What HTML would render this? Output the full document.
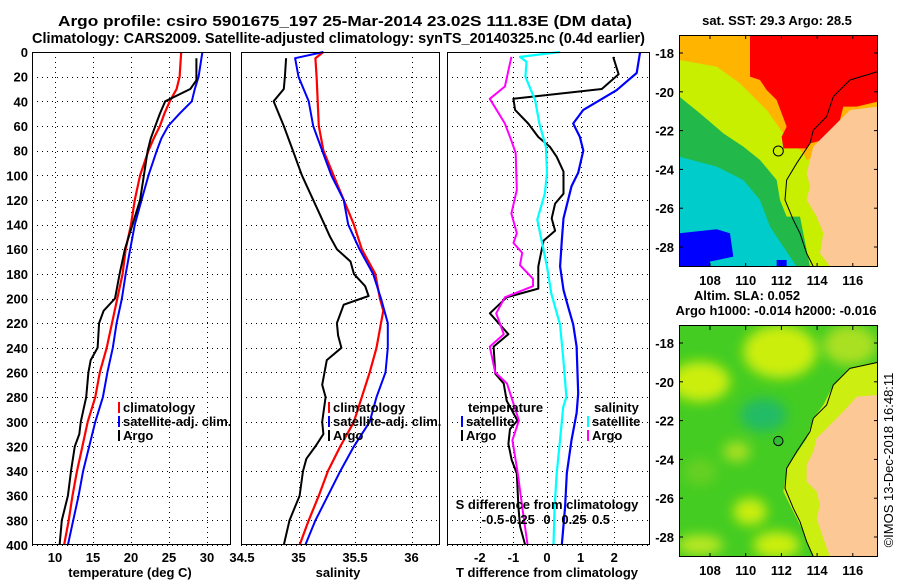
<!DOCTYPE html>
<html><head><meta charset="utf-8"><style>
html,body{margin:0;padding:0;background:#fff;}
svg{display:block;font-family:"Liberation Sans",Arial,sans-serif;font-weight:bold;}
</style></head><body>
<svg id="fig" width="900" height="580" viewBox="0 0 900 580">
<defs>
<filter id="bl" x="-20%" y="-20%" width="140%" height="140%"><feGaussianBlur stdDeviation="18"/></filter>
<clipPath id="m1c"><rect x="88" y="105" width="595" height="695"/></clipPath>
<clipPath id="m2c"><rect x="88" y="122" width="595" height="693"/></clipPath>
</defs>
<text x="58" y="26" font-size="15" textLength="574" lengthAdjust="spacingAndGlyphs">Argo profile: csiro 5901675_197 25-Mar-2014 23.02S 111.83E (DM data)</text>
<text x="32" y="43" font-size="15" textLength="613" lengthAdjust="spacingAndGlyphs">Climatology: CARS2009. Satellite-adjusted climatology: synTS_20140325.nc (0.4d earlier)</text>
<g id="charts"></g>

<!-- SST map -->
<g>
<text x="777" y="25" font-size="13" text-anchor="middle">sat. SST: 29.3 Argo: 28.5</text>
<g transform="translate(650,0) scale(0.3333)" clip-path="url(#m1c)">
<rect x="88" y="105" width="595" height="695" fill="#00cccc"/>
<polygon fill="#22b84a" points="88,105 683,105 683,800 440,800 400,740 360,680 330,600 280,540 200,500 88,470"/>
<polygon fill="#c8ee00" points="88,105 683,105 683,800 480,800 450,650 410,650 390,600 380,540 330,480 280,440 220,400 150,340 88,290"/>
<polygon fill="#ffb400" points="88,105 683,105 683,400 470,480 460,460 400,400 350,330 320,300 270,250 200,200 88,180"/>
<polygon fill="#ff0000" points="300,105 683,105 683,305 620,320 580,320 570,360 520,420 480,430 470,445 400,445 395,410 410,380 380,300 350,270 330,240 300,230"/>
<polygon fill="#0000ff" points="88,700 200,688 240,700 250,770 180,785 180,800 88,800"/>
<rect x="380" y="780" width="30" height="20" fill="#0000ff"/>
<polygon fill="#fcc896" points="683,320 600,330 570,360 520,410 490,440 470,520 480,560 470,600 500,650 520,700 510,760 540,800 683,800"/>
<polyline fill="none" stroke="#000" stroke-width="3" points="683,215 600,240 550,290 530,350 490,390 480,430 440,490 410,540 405,600 430,660 450,700 470,760 490,800"/>
<circle cx="385" cy="453" r="15" fill="none" stroke="#000" stroke-width="3"/>
</g>
<rect x="679.5" y="35.5" width="198" height="231" fill="none" stroke="#000"/>
<g id="m1ticks"></g>
</g>

<!-- SLA map -->
<g>
<text x="747" y="300" font-size="13" text-anchor="middle">Altim. SLA: 0.052</text>
<text x="776" y="315" font-size="13" text-anchor="middle">Argo h1000: -0.014 h2000: -0.016</text>
<g transform="translate(650,285) scale(0.3333)" clip-path="url(#m2c)">
<rect x="88" y="122" width="595" height="693" fill="#44cc22"/>
<g filter="url(#bl)">
<ellipse cx="150" cy="290" rx="90" ry="60" fill="#ccee11"/>
<ellipse cx="390" cy="200" rx="110" ry="80" fill="#ccee11"/>
<ellipse cx="600" cy="180" rx="80" ry="60" fill="#aae022"/>
<ellipse cx="340" cy="390" rx="70" ry="50" fill="#22bb66"/>
<ellipse cx="260" cy="500" rx="40" ry="30" fill="#aae022"/>
<ellipse cx="300" cy="680" rx="50" ry="40" fill="#ccee11"/>
<ellipse cx="380" cy="780" rx="70" ry="40" fill="#ccee11"/>
<ellipse cx="150" cy="780" rx="70" ry="30" fill="#bbe822"/>
<ellipse cx="150" cy="560" rx="50" ry="40" fill="#66d022"/>
</g>
<polygon fill="#ccee11" points="683,232 600,250 550,300 520,360 490,400 470,460 410,550 400,620 430,680 460,740 490,815 683,815"/>
<polygon fill="#fcc896" points="683,330 620,335 580,380 530,430 500,460 490,500 470,540 470,590 500,620 510,660 500,700 520,760 540,815 683,815"/>
<polyline fill="none" stroke="#000" stroke-width="3" points="683,232 600,250 550,300 530,360 490,400 480,440 440,500 410,550 405,610 430,670 450,710 470,770 490,815"/>
<circle cx="385" cy="468" r="14" fill="#33bb33" stroke="#000" stroke-width="3"/>
</g>
<rect x="679.5" y="325.5" width="198" height="231" fill="none" stroke="#000"/>
<g id="m2ticks"></g>
</g>
<text transform="translate(893,460) rotate(-90)" font-size="13" font-weight="normal" text-anchor="middle">©IMOS 13-Dec-2018 16:48:11</text>
</svg>
<script>
// ---- chart data ----
const depthTicks = [0,20,40,60,80,100,120,140,160,180,200,220,240,260,280,300,320,340,360,380,400];
const tempTicks = [10,15,20,25,30];
const salTicks = [34.5,35,35.5,36];
const salTickLabels = ["34.5","35","35.5","36"];
const tdTicks = [-2,-1,0,1,2];
const sdTicks = [-0.5,-0.25,0,0.25,0.5];
const sdTickLabels = ["-0.5","-0.25","0","0.25","0.5"];

const climDepth = [0,20,30,40,50,60,70,80,100,120,140,160,180,200,220,240,260,280,300,320,340,360,380,400];
const tempClim = [26.6,26.4,26.0,25.1,24.4,23.8,23.0,22.3,21.2,20.5,20.0,19.3,18.9,18.2,17.5,16.8,15.9,15.3,14.3,13.6,12.9,12.3,11.8,11.2];
const tempSat = [29.4,28.9,28.4,28.0,26.4,24.9,24.0,23.4,22.3,21.4,20.5,19.9,19.3,18.8,18.1,17.6,16.9,16.3,15.3,14.5,13.7,13.1,12.4,11.7];
const argoTDepth = [5,20,23,30,40,50,60,70,80,100,120,140,160,180,200,210,220,240,250,260,280,300,310,320,340,360,380,400];
const tempArgo = [28.6,28.6,28.6,27.8,24.5,23.8,23.2,22.6,22.2,21.7,21.2,20.2,19.2,18.5,17.9,16.4,15.8,15.6,14.7,14.4,14.1,13.4,13.2,12.6,12.1,11.7,10.9,10.6];

const salDepth = [0,5,20,40,60,80,100,120,140,160,180,200,210,220,240,260,280,300,320,340,360,380,400];
const salClim = [35.22,35.15,35.16,35.17,35.18,35.22,35.31,35.40,35.49,35.56,35.68,35.72,35.75,35.73,35.69,35.63,35.56,35.49,35.37,35.26,35.18,35.09,35.01];
const salSat = [35.22,34.97,35.0,35.09,35.13,35.21,35.29,35.40,35.44,35.54,35.66,35.73,35.76,35.79,35.79,35.77,35.69,35.63,35.49,35.37,35.26,35.15,35.06];
const argoSDepth = [5,20,30,40,60,80,100,120,140,150,160,170,180,190,198,205,220,230,240,250,270,280,300,310,320,330,340,360,380,400];
const salArgo = [34.89,34.88,34.87,34.78,34.87,34.95,35.03,35.13,35.23,35.28,35.34,35.46,35.49,35.59,35.62,35.40,35.34,35.35,35.38,35.25,35.21,35.24,35.21,35.22,35.15,35.07,35.04,35.01,34.92,34.87];

const tdArgoDepth = [4,18,30,38,47,58,69,77,85,97,115,123,135,145,153,166,174,192,199,212,229,239,261,269,283,299,306,318,331,342,369,385,400];
const tdArgo = [1.97,2.13,1.63,-1.0,-0.95,-0.56,-0.26,0.09,0.29,0.49,0.49,0.24,0.14,0.24,-0.10,-0.2,-0.26,-0.26,-1.2,-1.7,-1.15,-1.59,-1.54,-1.29,-1.2,-0.88,-1.1,-1.15,-1.05,-0.9,-0.85,-0.8,-0.65];
const tdSatDepth = [0,17,31,47,58,69,80,98,109,135,153,174,193,207,221,239,277,293,315,342,369,400];
const tdSat = [2.77,2.67,2.07,1.08,0.78,0.98,1.08,0.93,0.73,0.49,0.44,0.39,0.49,0.63,0.78,0.88,0.93,0.88,0.73,0.59,0.54,0.44];
const sdArgoDepth = [4,28,38,58,72,82,112,131,147,155,163,173,184,190,199,212,229,239,260,269,299,315,342,369,400];
const sdArgo = [-0.33,-0.39,-0.53,-0.39,-0.33,-0.29,-0.28,-0.33,-0.28,-0.31,-0.23,-0.25,-0.13,-0.13,-0.39,-0.47,-0.40,-0.53,-0.48,-0.37,-0.26,-0.32,-0.27,-0.23,-0.18];
const sdSatDepth = [0,4,8,20,39,58,77,98,115,136,153,174,196,221,248,280,288,315,342,369,400];
const sdSat = [0.12,-0.25,-0.19,-0.20,-0.11,-0.07,-0.01,0,-0.02,-0.09,-0.05,0,0.04,0.12,0.15,0.18,0.15,0.12,0.09,0.07,0.06];

const mapLatTicks = [-18,-20,-22,-24,-26,-28];
const mapLonTicks = [108,110,112,114,116];

// ---- axis functions ----
const TOP = 52, BOT = 545;
function yD(d){ return TOP + d*(BOT-TOP)/400; }
function xT(t){ return 55 + (t-10)*7.6; }
function xS(s){ return 242 + (s-34.5)*113; }
function xTD(t){ return 547 + t*33.6; }
function xSD(s){ return 547 + s*108; }
function mapY(lat, y18){ return y18 + (-18-lat)*19.4; }
function mapX(lon){ return 710 + (lon-108)*17.85; }

const NS = "http://www.w3.org/2000/svg";
const root = document.getElementById('charts');
function mk(tag, attrs, parent){
  const e = document.createElementNS(NS, tag);
  for (const k in attrs) e.setAttribute(k, attrs[k]);
  (parent||root).appendChild(e);
  return e;
}
function txt(x,y,s,anchor,size,parent){
  const t = mk('text',{x:x,y:y,'font-size':size||13,'text-anchor':anchor||'middle'},parent);
  t.textContent = s;
  return t;
}

const panels = [
  {name:'temperature-panel', l:32, r:231},
  {name:'salinity-panel', l:241, r:440},
  {name:'difference-panel', l:447, r:650}
];
panels.forEach((p,i)=>{
  const g = mk('g',{});
  
  
  p.g = g;
  depthTicks.forEach(d=>{
    const y = Math.round(yD(d))+0.5;
    const gl = mk('line',{x1:p.l,x2:p.r,y1:y,y2:y,stroke:'#000','stroke-dasharray':'1,4'},g);
    
    
  });
});
function vgrid(p, xs, fx){
  xs.forEach(v=>{
    const x = Math.round(fx(v))+0.5;
    const gl = mk('line',{x1:x,x2:x,y1:TOP,y2:BOT,stroke:'#000','stroke-dasharray':'1,4'},p.g);
    
    
  });
}
vgrid(panels[0], tempTicks, xT);
vgrid(panels[1], salTicks.slice(1), xS);
vgrid(panels[2], tdTicks, xTD);

function line(xs, ds, fx, color, w, name, parent){
  const pts = xs.map((v,i)=> fx(v).toFixed(1)+','+yD(ds[i]).toFixed(1)).join(' ');
  const pl = mk('polyline',{points:pts,fill:'none',stroke:color,'stroke-width':w,'stroke-linejoin':'round'},parent);
  
  
}
line(tempClim, climDepth, xT, '#ff0000', 2.2, 'temp-climatology-line', panels[0].g);
line(tempSat, climDepth, xT, '#0000ff', 2, 'temp-satellite-line', panels[0].g);
line(tempArgo, argoTDepth, xT, '#000', 2, 'temp-argo-line', panels[0].g);
line(salClim, salDepth, xS, '#ff0000', 2.2, 'sal-climatology-line', panels[1].g);
line(salSat, salDepth, xS, '#0000ff', 2, 'sal-satellite-line', panels[1].g);
line(salArgo, argoSDepth, xS, '#000', 2, 'sal-argo-line', panels[1].g);
line(tdArgo, tdArgoDepth, xTD, '#000', 2, 'tdiff-argo-line', panels[2].g);
line(tdSat, tdSatDepth, xTD, '#0000ff', 2.2, 'tdiff-satellite-line', panels[2].g);
line(sdArgo, sdArgoDepth, xSD, '#ff00ff', 2, 'sdiff-argo-line', panels[2].g);
line(sdSat, sdSatDepth, xSD, '#00ffff', 2.2, 'sdiff-satellite-line', panels[2].g);

panels.forEach(p=>{
  const b = mk('rect',{x:p.l+0.5,y:TOP+0.5,width:p.r-p.l-1,height:BOT-TOP-1,fill:'none',stroke:'#000'},p.g);
  
  
});

depthTicks.forEach(d=>{
  const t = txt(28, yD(d)+5, String(d), 'end', 13);
  
  
});
tempTicks.forEach(v=>{
  const t = txt(xT(v), 562, String(v));
  
  
});
salTicks.forEach((v,i)=>{
  const t = txt(xS(v), 562, salTickLabels[i]);
  
  
});
tdTicks.forEach(v=>{
  const t = txt(xTD(v), 562, String(v));
  
  
});
sdTicks.forEach((v,i)=>{
  const t = txt(xSD(v), 524, sdTickLabels[i]);
  
  
});
let at;
at = txt(130, 577, 'temperature (deg C)');  
at = txt(338, 577, 'salinity');  
at = txt(547, 577, 'T difference from climatology');  
at = txt(547, 509, 'S difference from climatology');  

function legend(x, y, color, label){
  const g = mk('g',{});
  
  
  mk('rect',{x:x,y:y-10,width:2,height:11,fill:color},g);
  const t = mk('text',{x:x+5,y:y,'font-size':13,'text-anchor':'start'},g);
  t.textContent = label;
}
legend(118, 412, '#ff0000', 'climatology');
legend(118, 426, '#0000ff', 'satellite-adj. clim.');
legend(118, 440, '#000', 'Argo');
legend(328, 412, '#ff0000', 'climatology');
legend(328, 426, '#0000ff', 'satellite-adj. clim.');
legend(328, 440, '#000', 'Argo');
at = txt(468, 412, 'temperature', 'start');  
at = txt(594, 412, 'salinity', 'start');  
legend(461, 426, '#0000ff', 'satellite');
legend(461, 440, '#000', 'Argo');
legend(587, 426, '#00ffff', 'satellite');
legend(587, 440, '#ff00ff', 'Argo');

function mapTicks(id, top, bottom, y18, labelY){
  const g = document.getElementById(id);
  mapLatTicks.forEach(lat=>{
    const y = mapY(lat, y18);
    mk('line',{x1:679,x2:683,y1:y,y2:y,stroke:'#000'},g);
    mk('line',{x1:874,x2:878,y1:y,y2:y,stroke:'#000'},g);
    const t = txt(674, y+5, String(lat), 'end', 13, g);
    
    
  });
  mapLonTicks.forEach(lon=>{
    const x = mapX(lon);
    mk('line',{x1:x,x2:x,y1:top,y2:top+4,stroke:'#000'},g);
    mk('line',{x1:x,x2:x,y1:bottom-4,y2:bottom,stroke:'#000'},g);
    const t = txt(x, labelY, String(lon), 'middle', 13, g);
    
    
  });
}
mapTicks('m1ticks', 35, 267, 53, 285);
mapTicks('m2ticks', 326, 557, 343, 575);
</script>
</body></html>
